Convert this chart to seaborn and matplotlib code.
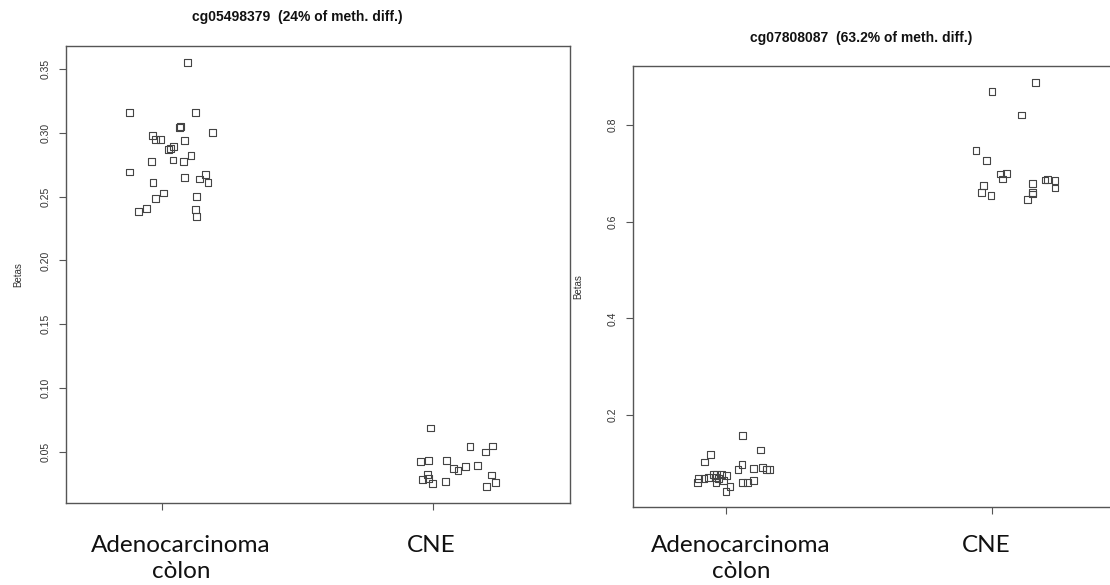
import numpy as np
import pandas as pd
import matplotlib
matplotlib.use("Agg")
import matplotlib.pyplot as plt
import matplotlib.transforms as mtransforms
import seaborn as sns

# ---------------- data ----------------
categories = ["Adenocarcinoma\ncòlon", "CNE"]

# Panel 1: cg05498379
p1_title = "cg05498379  (24% of meth. diff.)"
p1_adeno = [0.355, 0.316, 0.316, 0.305, 0.304, 0.300, 0.298, 0.2945, 0.2945, 0.294,
            0.2893, 0.2877, 0.2867, 0.282, 0.2776, 0.2787, 0.2773, 0.2693, 0.2612, 0.2648,
            0.2672, 0.2638, 0.2609, 0.2529, 0.2487, 0.2500, 0.2404, 0.2383, 0.2401, 0.2346]
p1_adeno_jit = [0.095, -0.119, 0.125, 0.070, 0.066, 0.188, -0.036, -0.023, -0.006, 0.082,
                0.042, 0.033, 0.025, 0.107, -0.037, 0.041, 0.079, -0.121, -0.033, 0.084,
                0.160, 0.140, 0.170, 0.006, -0.023, 0.128, -0.057, -0.086, 0.125, 0.128]
p1_cne = [0.0688, 0.0542, 0.0547, 0.0500, 0.0427, 0.0430, 0.0432, 0.0370, 0.0354, 0.0388,
          0.0391, 0.0326, 0.0287, 0.0289, 0.0255, 0.0268, 0.0320, 0.0258, 0.0227]
p1_cne_jit = [-0.010, 0.137, 0.219, 0.194, -0.045, -0.016, 0.049, 0.076, 0.093, 0.121,
              0.166, -0.020, -0.037, -0.016, 0.000, 0.048, 0.217, 0.232, 0.197]
p1_yticks = [0.05, 0.10, 0.15, 0.20, 0.25, 0.30, 0.35]
p1_yticklabels = ["0.05", "0.10", "0.15", "0.20", "0.25", "0.30", "0.35"]

# Panel 2: cg07808087
p2_title = "cg07808087  (63.2% of meth. diff.)"
p2_adeno = [0.158, 0.128, 0.118, 0.103, 0.0986, 0.0883, 0.0890, 0.091, 0.0876, 0.0869,
            0.0779, 0.0765, 0.0765, 0.0752, 0.0682, 0.0682, 0.0703, 0.0710, 0.0682,
            0.060, 0.060, 0.0655, 0.053, 0.0427, 0.060, 0.060, 0.0655]
p2_adeno_jit = [0.061, 0.129, -0.058, -0.080, 0.060, 0.045, 0.103, 0.137, 0.153, 0.163,
                -0.046, -0.035, -0.018, 0.003, -0.103, -0.083, -0.066, -0.041, -0.029,
                -0.108, -0.038, -0.010, 0.015, 0.000, 0.061, 0.080, 0.102]
p2_cne = [0.8875, 0.869, 0.8207, 0.7468, 0.7263, 0.6986, 0.6993, 0.6883, 0.6744, 0.6607,
          0.6545, 0.6786, 0.660, 0.6572, 0.6463, 0.6862, 0.6876, 0.6848, 0.6697]
p2_cne_jit = [0.162, 0.000, 0.110, -0.060, -0.021, 0.031, 0.053, 0.040, -0.033, -0.039,
              -0.004, 0.152, 0.153, 0.153, 0.133, 0.199, 0.209, 0.237, 0.237]
p2_yticks = [0.2, 0.4, 0.6, 0.8]
p2_yticklabels = ["0.2", "0.4", "0.6", "0.8"]

ylabel = "Betas"


def make_df(adeno, adeno_jit, cne, cne_jit):
    rows = []
    for gi, (vals, jit) in enumerate([(adeno, adeno_jit), (cne, cne_jit)]):
        for v, j in zip(vals, jit):
            rows.append({"group": categories[gi], "xpos": gi + j, "beta": v})
    return pd.DataFrame(rows)


df1 = make_df(p1_adeno, p1_adeno_jit, p1_cne, p1_cne_jit)
df2 = make_df(p2_adeno, p2_adeno_jit, p2_cne, p2_cne_jit)

# ---------------- style ----------------
sns.set_theme(style="white")
plt.rcParams["font.family"] = ["Liberation Sans", "DejaVu Sans"]

W, H = 1110, 585
fig = plt.figure(figsize=(W / 100, H / 100), dpi=100)


def px_axes(left, top, right, bottom):
    return fig.add_axes([left / W, 1 - bottom / H, (right - left) / W, (bottom - top) / H])


ax1 = px_axes(66, 46, 570, 503)
ax2 = px_axes(633, 66, 1137, 507)

box_color = "#555555"
panels = [
    (ax1, df1, (-0.354, 1.506), (0.010, 0.368), p1_yticks, p1_yticklabels, 18, (19, -2)),
    (ax2, df2, (-0.35, 1.545), (0.010, 0.922), p2_yticks, p2_yticklabels, 15, (15, -6)),
]
for ax, df, xlim, ylim, yt, ytl, xpad, shifts in panels:
    sns.scatterplot(data=df, x="xpos", y="beta", ax=ax, marker="s", s=24,
                    facecolor="none", edgecolor="#444444", linewidth=0.8, legend=False)
    ax.set_xlim(*xlim)
    ax.set_ylim(*ylim)
    ax.set_yticks(yt)
    ax.set_yticklabels(ytl, rotation=90, va="center", fontsize=7.5, color="#333333")
    ax.set_xticks([0, 1])
    ax.set_xticklabels(categories, fontsize=17.5, family=["Lato", "DejaVu Sans"],
                       color="#111111", linespacing=1.32)
    ax.tick_params(axis="y", direction="out", length=5, width=0.8, color=box_color,
                   pad=6, left=True)
    ax.tick_params(axis="x", direction="out", length=5, width=0.8, color=box_color,
                   pad=xpad, bottom=True)
    for lab, dx in zip(ax.get_xticklabels(), shifts):
        lab.set_transform(lab.get_transform() +
                          mtransforms.ScaledTranslation(dx / 100, 0, fig.dpi_scale_trans))
    ax.set_xlabel("")
    ax.set_ylabel(ylabel, fontsize=7, color="#333333")
    for sp in ax.spines.values():
        sp.set_visible(True)
        sp.set_color(box_color)
        sp.set_linewidth(1.0)
    ax.grid(False)

ax1.yaxis.set_label_coords(-0.085, 0.5)
ax2.yaxis.set_label_coords(-0.099, 0.5)

fig.text(297 / W, 1 - 17 / H, p1_title, ha="center", va="center",
         fontsize=10, fontweight="bold", color="#111111")
fig.text(861 / W, 1 - 38 / H, p2_title, ha="center", va="center",
         fontsize=10, fontweight="bold", color="#111111")

fig.savefig("out.png", dpi=100)
